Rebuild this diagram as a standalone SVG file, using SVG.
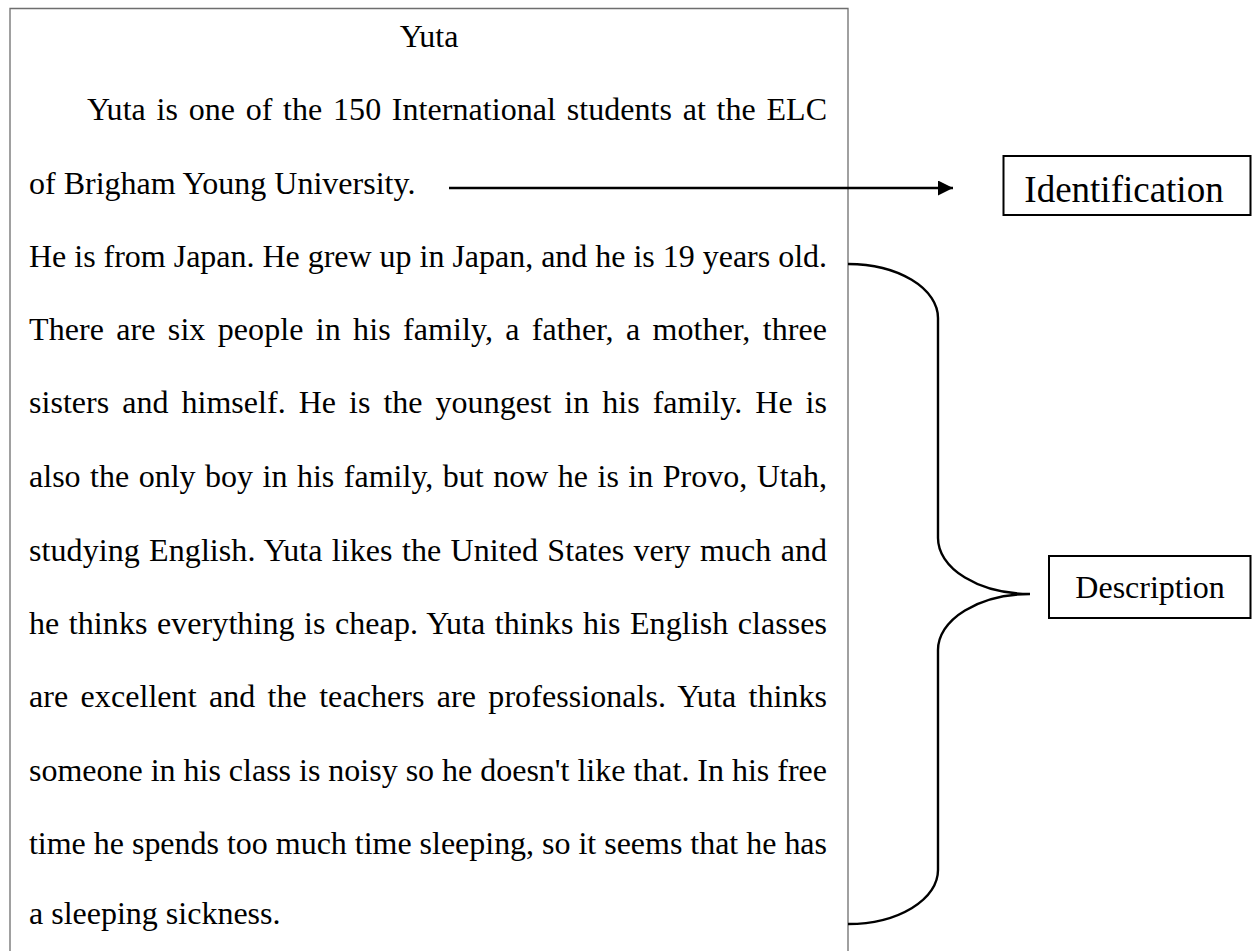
<svg xmlns="http://www.w3.org/2000/svg" width="1252" height="951" viewBox="0 0 1252 951">
<style>
.t{font-family:"Liberation Serif","Times New Roman",serif;font-size:32px;fill:#000}
.lbl{font-family:"Liberation Serif","Times New Roman",serif;fill:#000;text-anchor:middle}
.frame{fill:none;stroke:#6e6e6e;stroke-width:1.3}
.box{fill:#fff;stroke:#000;stroke-width:2}
.conn{fill:none;stroke:#000;stroke-width:2.4}
</style>
<defs>
<marker id="ah" markerWidth="16" markerHeight="16" refX="15" refY="7.5" orient="auto" markerUnits="userSpaceOnUse">
<path d="M0,0 L15,7.5 L0,15 Z" fill="#000"/>
</marker>
</defs>
<g id="essay">
<path class="frame" d="M10,960 L10,8.5 L848,8.5 L848,960"/>
<text class="t" x="429" y="47" text-anchor="middle">Yuta</text>
<text class="t" x="87" y="120" word-spacing="2.6" textLength="740" lengthAdjust="spacing">Yuta is one of the 150 International students at the ELC</text>
<text class="t" x="29" y="194">of Brigham Young University.</text>
<text class="t" x="29" y="267" textLength="798" lengthAdjust="spacing">He is from Japan. He grew up in Japan, and he is 19 years old.</text>
<text class="t" x="29" y="340" word-spacing="4.2" textLength="798" lengthAdjust="spacing">There are six people in his family, a father, a mother, three</text>
<text class="t" x="29" y="413" word-spacing="4.9" textLength="798" lengthAdjust="spacing">sisters and himself. He is the youngest in his family. He is</text>
<text class="t" x="29" y="487" word-spacing="1.4" textLength="798" lengthAdjust="spacing">also the only boy in his family, but now he is in Provo, Utah,</text>
<text class="t" x="29" y="561" word-spacing="1.2" textLength="798" lengthAdjust="spacing">studying English. Yuta likes the United States very much and</text>
<text class="t" x="29" y="634" word-spacing="1.4" textLength="798" lengthAdjust="spacing">he thinks everything is cheap. Yuta thinks his English classes</text>
<text class="t" x="29" y="707" word-spacing="4.2" textLength="798" lengthAdjust="spacing">are excellent and the teachers are professionals. Yuta thinks</text>
<text class="t" x="29" y="781" textLength="798" lengthAdjust="spacing">someone in his class is noisy so he doesn't like that. In his free</text>
<text class="t" x="29" y="854" textLength="798" lengthAdjust="spacing">time he spends too much time sleeping, so it seems that he has</text>
<text class="t" x="29" y="924">a sleeping sickness.</text>
</g>
<g id="identification">
<rect class="box" x="1003.5" y="156" width="247" height="59" stroke-width="1.6"/>
<text class="lbl" x="1124" y="202" font-size="37">Identification</text>
</g>
<g id="description">
<rect class="box" x="1049" y="556" width="201.5" height="62"/>
<text class="lbl" x="1150" y="598" font-size="32">Description</text>
</g>
<g id="connectors">
<path class="conn" d="M449,188 L953,188" marker-end="url(#ah)"/>
<path class="conn" stroke-width="2" d="M848,264 A90,54 0 0 1 938,318 L938,538 A92,56 0 0 0 1030,594 A92,56 0 0 0 938,650 L938,870 A90,54 0 0 1 848,924"/>
</g>
</svg>
